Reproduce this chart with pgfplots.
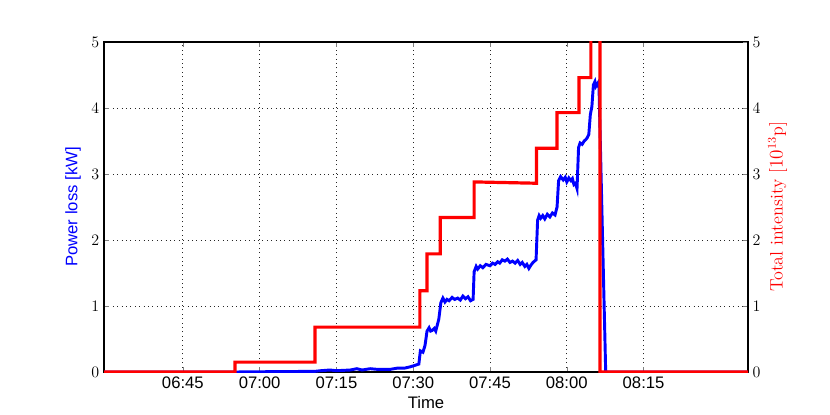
\documentclass[border=0pt]{standalone}
\usepackage{pgfplots}
\pgfplotsset{compat=1.18}
\usepackage{fontspec}
\newfontfamily\helv{Liberation Sans}
\newcommand{\fs}{\fontsize{12.5}{15}\selectfont}
\begin{document}
\begin{tikzpicture}[x=0.75pt,y=0.75pt]
\path[use as bounding box] (-104,-42) rectangle (726,372);
\begin{axis}[
  at={(0,0)}, anchor=south west, scale only axis,
  width=483pt, height=247.5pt,
  xmin=29.6, xmax=155.4, ymin=0, ymax=5,
  xtick={45,60,75,90,105,120,135},
  xticklabels={06:45,07:00,07:15,07:30,07:45,08:00,08:15},
  ytick={0,1,2,3,4,5},
  ytick pos=left, xtick pos=both,
  tick align=inside,
  major tick length=4pt,
  grid=major, grid style={dash pattern=on 0.7pt off 2.6pt, black!85, line width=0.6pt},
  axis line style={black, line width=0.8pt},
  xticklabel style={font=\helv\fs},
  yticklabel style={font=\fs},
  xlabel={Time}, ylabel={Power loss [kW]},
  xlabel style={font=\helv\fs, at={(axis description cs:0.5,-0.094)}, anchor=center},
  ylabel style={font=\helv\fs, text=blue, at={(axis description cs:-0.048,0.5)}, anchor=center},
  clip=true,
]
\addplot[blue, line width=2.2pt] coordinates {
(29.6,0)(55.2,0)(62,0.005)(70.8,0.01)(72,0.02)(73.7,0.03)(75,0.02)(77.7,0.03)(79,0.05)(80,0.03)(81.6,0.05)(83,0.04)(85.5,0.04)(87,0.06)(88.4,0.06)(89.5,0.08)(90.3,0.10)(91.1,0.12)
(91.4,0.32)(91.9,0.30)(92.3,0.40)(92.7,0.62)(93.1,0.67)(93.4,0.62)(93.7,0.63)(94.1,0.66)(94.4,0.62)(95.0,0.80)(95.4,1.05)(95.8,1.12)(96.2,1.06)(96.6,1.10)(97.0,1.08)(97.6,1.13)(98.1,1.10)(98.7,1.12)(99.2,1.09)(99.7,1.15)(100.2,1.11)(100.7,1.14)(101.2,1.08)(101.7,1.10)
(101.9,1.52)(102.3,1.60)(102.6,1.56)(103.1,1.61)(103.6,1.58)(104.2,1.63)(105.0,1.61)(105.5,1.65)(106.0,1.63)(106.5,1.67)(106.9,1.65)(107.4,1.70)(107.9,1.68)(108.4,1.71)(108.9,1.66)(109.4,1.68)(109.9,1.65)(110.4,1.69)(110.9,1.63)(111.3,1.66)(111.8,1.60)(112.2,1.63)(112.6,1.57)(113.0,1.62)(113.4,1.66)(114.0,1.70)
(114.3,2.30)(114.6,2.37)(114.9,2.33)(115.3,2.37)(115.7,2.32)(116.2,2.39)(116.7,2.35)(117.2,2.41)(117.7,2.38)(118.1,2.50)
(118.4,2.90)(118.8,2.96)(119.3,2.91)(119.7,2.95)(120.0,2.88)(120.4,2.94)(120.8,2.90)(121.1,2.93)(121.4,2.84)(121.7,2.86)(122.0,2.78)
(122.3,3.40)(122.6,3.47)(123.0,3.45)(123.4,3.50)(123.7,3.52)(124.0,3.55)(124.3,3.60)(124.6,3.90)(124.9,4.02)(125.2,4.35)(125.5,4.40)(125.7,4.33)(126.1,4.38)(126.3,4.30)
(127.6,0)(155.4,0)
};
\end{axis}
\begin{axis}[
  at={(0,0)}, anchor=south west, scale only axis,
  width=483pt, height=247.5pt,
  xmin=29.6, xmax=155.4, ymin=0, ymax=5,
  hide x axis,
  axis y line*=right,
  ytick={0,1,2,3,4,5},
  tick align=inside,
  major tick length=4pt,
  axis line style={black, line width=0.8pt, -},
  yticklabel style={font=\fs},
  ylabel={Total intensity [$10^{13}$p]},
  ylabel style={font=\fontsize{13.5}{16}\selectfont, text=red, at={(axis description cs:1.046,0.5)}, anchor=center},
  clip=true,
]
\addplot[red, line width=2.4pt] coordinates {
(29.6,0)(55.2,0)(55.2,0.15)(70.8,0.15)(70.8,0.68)(91.3,0.68)(91.3,1.23)(92.7,1.23)(92.7,1.79)(95.3,1.79)(95.3,2.34)(101.9,2.34)(101.9,2.88)(114.1,2.86)(114.1,3.39)(118.1,3.39)(118.1,3.93)(122.4,3.93)(122.4,4.46)(124.7,4.46)(124.7,5.6)(126.5,5.6)(126.5,0)(155.4,0)
};
\end{axis}
\end{tikzpicture}
\end{document}
